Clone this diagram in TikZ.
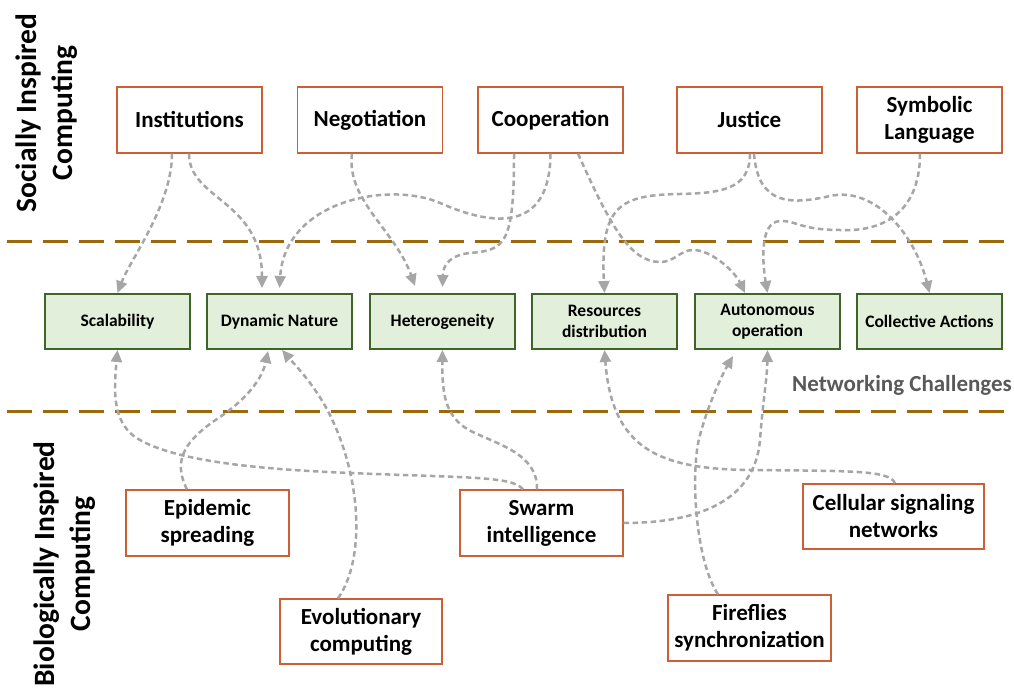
\documentclass[tikz,border=0pt]{standalone}
\usepackage{fontspec}
\setmainfont{Carlito}
\usetikzlibrary{arrows.meta,calc}
\definecolor{sepc}{RGB}{156,105,10}
\definecolor{orb}{RGB}{204,95,55}
\definecolor{grb}{RGB}{62,100,40}
\definecolor{grf}{RGB}{226,239,218}
\definecolor{conn}{RGB}{166,166,166}
\definecolor{ncg}{RGB}{89,89,89}
\begin{document}
\begin{tikzpicture}[x=1pt,y=-1pt,
 topbox/.style={draw=orb,line width=1.3pt,fill=white,minimum width=145pt,minimum height=66pt,inner sep=0pt,align=center,font=\fontsize{23}{27}\selectfont\bfseries},
 chal/.style={draw=grb,line width=2pt,fill=grf,minimum width=145pt,minimum height=55pt,inner sep=0pt,align=center,font=\fontsize{17.5}{21}\selectfont\bfseries},
 sepline/.style={draw=sepc,line width=3pt,dash pattern=on 25pt off 11pt},
 link/.style={draw=conn,line width=2.5pt,dash pattern=on 5.5pt off 3.5pt,-{Triangle[length=12pt,width=11pt]}},
 side/.style={rotate=90,align=center,font=\fontsize{29.5}{36}\selectfont\bfseries}]
\useasboundingbox[fill=white] (0,0) rectangle (1014,692);

% separators
\coordinate (s1a) at (7,241.5);
\coordinate (s1b) at (1014,241.5);
\coordinate (s2a) at (7,411.5);
\coordinate (s2b) at (1014,411.5);
\draw[sepline] (s1a) -- (s1b);
\draw[sepline] (s2a) -- (s2b);

% side labels
\node[side] (soc) at (47,113) {Socially Inspired\\Computing};
\node[side] (bio) at (65,564) {Biologically Inspired\\Computing};
\node[font=\fontsize{23}{27}\selectfont\bfseries,text=ncg] (nc) at (902,385) {Networking Challenges};

% top boxes
\node[topbox] (inst) at (189.5,120) {Institutions};
\node[topbox] (nego) at (370,120) {Negotiation};
\node[topbox] (coop) at (550.5,120) {Cooperation};
\node[topbox] (just) at (749.5,120) {Justice};
\node[topbox] (symb) at (929.5,120) {Symbolic\\Language};

% challenges
\node[chal] (scal) at (117.5,321.5) {Scalability};
\node[chal] (dyn) at (279.5,321.5) {Dynamic Nature};
\node[chal] (het) at (442.5,321.5) {Heterogeneity};
\node[chal] (res) at (604.5,321.5) {Resources\\distribution};
\node[chal] (auto) at (767.5,321.5) {Autonomous\\operation};
\node[chal] (coll) at (929.5,321.5) {Collective Actions};

% bottom boxes
\node[topbox,minimum width=163pt] (epi) at (207.5,523) {Epidemic\\spreading};
\node[topbox,minimum width=162pt,minimum height=65pt] (evo) at (361,631.5) {Evolutionary\\computing};
\node[topbox,minimum width=163pt] (swarm) at (541.5,523) {Swarm\\intelligence};
\node[topbox,minimum width=163pt] (fire) at (749.5,628) {Fireflies\\synchronization};
\node[topbox,minimum width=181pt,minimum height=65pt] (cell) at (893.5,516.5) {Cellular signaling\\networks};

% connectors from socially inspired
\draw[link] ($(inst.south)+(-17.5,0)$) .. controls (172,205) and (130,260) .. ($(scal.north)+(0,0)$);
\draw[link] ($(inst.south)+(-0.5,0)$) .. controls (189,200) and (262,200) .. ($(dyn.north)+(-17.5,-5)$);
\draw[link] (coop.south) .. controls (550,235) and (490,225) .. (440,203)
  .. controls (390,181) and (285,200) .. ($(dyn.north)+(0,-5)$);
\draw[link] ($(nego.south)+(-18,0)$) .. controls (346,200) and (395,230) .. ($(het.north)+(-27.5,-7)$);
\draw[link] ($(coop.south)+(-36.5,0)$) .. controls (514,245) and (505,250) .. (470,253)
  .. controls (450,255) and (443,265) .. ($(het.north)+(0,-6)$);
\draw[link] ($(coop.south)+(27.5,0)$) .. controls (610,225) and (630,262) .. (660,262)
  .. controls (675,262) and (680,250) .. (693,250)
  .. controls (712,250) and (735,272) .. ($(auto.north)+(-22.5,0)$);
\draw[link] ($(just.south)+(0.5,0)$) .. controls (750,190) and (720,193) .. (680,194)
  .. controls (620,195) and (600,205) .. (res.north);
\draw[link] ($(just.south)+(4.5,0)$) .. controls (758,205) and (790,205) .. (830,196)
  .. controls (875,186) and (915,235) .. (coll.north);
\draw[link] ($(symb.south)+(-9.5,0)$) .. controls (920,215) and (880,232) .. (840,230)
  .. controls (800,230) and (795,220) .. (780,221)
  .. controls (760,222) and (762,260) .. (auto.north);

% connectors from biologically inspired
\draw[link] ($(swarm.north)+(-18.5,0)$) .. controls (512,476) and (470,478) .. (350,473)
  .. controls (250,469) and (170,460) .. (135,437)
  .. controls (112,420) and (114,390) .. (scal.south);
\draw[link] ($(epi.north)+(-20.5,0)$) .. controls (172,460) and (185,440) .. (220,417)
  .. controls (245,400) and (262,380) .. ($(dyn.south)+(-11.5,1)$);
\draw[link] ($(evo.north)+(-23,0)$) .. controls (365,560) and (362,480) .. (330,415)
  .. controls (315,385) and (295,365) .. ($(dyn.south)+(2.5,0)$);
\draw[link] ($(swarm.north)+(-4.5,0)$) .. controls (538,455) and (500,445) .. (475,433)
  .. controls (445,420) and (442,395) .. (het.south);
\draw[link] ($(cell.north)+(1.5,0)$) .. controls (890,470) and (850,471) .. (750,470)
  .. controls (660,469) and (612,450) .. (res.south);
\draw[link] ($(fire.north)+(-31.5,0)$) .. controls (695,560) and (690,470) .. (700,435)
  .. controls (708,405) and (722,375) .. ($(auto.south)+(-34.5,6)$);
\draw[link] (swarm.east) .. controls (700,523) and (755,500) .. (760,440)
  .. controls (763,400) and (767,380) .. (auto.south);
\end{tikzpicture}
\end{document}
